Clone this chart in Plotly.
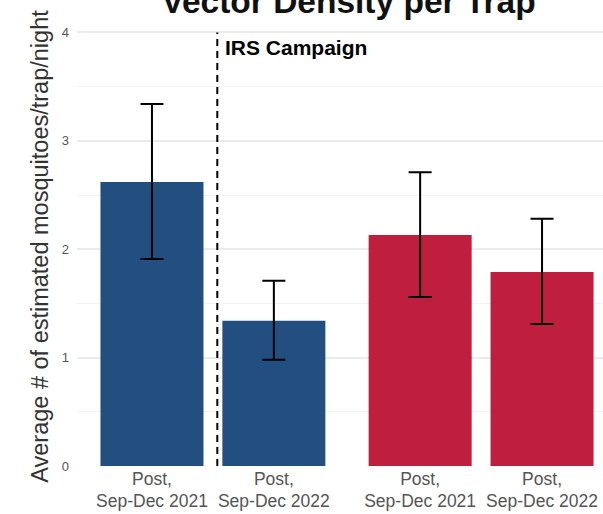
import plotly.graph_objects as go

# ---- data ----
periods = ["Post,<br>Sep-Dec 2021", "Post,<br>Sep-Dec 2022"]

group1_mean = [2.62, 1.34]
group1_lower = [1.91, 0.98]
group1_upper = [3.34, 1.71]

group2_mean = [2.13, 1.79]
group2_lower = [1.56, 1.31]
group2_upper = [2.71, 2.28]

title_text = "Vector Density per Trap"
y_title = "Average # of estimated mosquitoes/trap/night"
event_label = "IRS Campaign"

BLUE = "#224e80"
RED = "#c01e3f"
FONT = "Liberation Sans, Arial, sans-serif"


def err(mean, lower, upper):
    return dict(
        type="data",
        symmetric=False,
        array=[u - m for m, u in zip(mean, upper)],
        arrayminus=[m - l for m, l in zip(mean, lower)],
        color="black",
        thickness=2,
        width=11.5,
    )


fig = go.Figure()
fig.add_trace(go.Bar(
    x=periods, y=group1_mean, marker=dict(color=BLUE, line=dict(width=0)),
    width=0.845, error_y=err(group1_mean, group1_lower, group1_upper),
    xaxis="x", yaxis="y", showlegend=False,
))
fig.add_trace(go.Bar(
    x=periods, y=group2_mean, marker=dict(color=RED, line=dict(width=0)),
    width=0.845, error_y=err(group2_mean, group2_lower, group2_upper),
    xaxis="x2", yaxis="y", showlegend=False,
))

split = 270 / 526

fig.add_shape(
    type="line", xref="x", yref="y", x0=0.536, x1=0.536, y0=0, y1=4.0,
    line=dict(color="black", width=2, dash="7px,5px"),
)
fig.add_annotation(
    x=0.58, y=3.865, xref="x", yref="y", text="<b>" + event_label + "</b>",
    showarrow=False, xanchor="left", yanchor="middle",
    font=dict(family=FONT, size=21, color="black"),
)

tickfont = dict(family=FONT, size=17.5, color="#555555")
fig.update_layout(
    width=603, height=514,
    margin=dict(l=77, r=0, t=27, b=48),
    paper_bgcolor="white", plot_bgcolor="white",
    title=dict(
        text="<b>" + title_text + "</b>", x=0.578, xref="container", xanchor="center",
        y=0.9972, yref="container", yanchor="middle",
        font=dict(family=FONT, size=33.5, color="#111111"),
        automargin=False,
    ),
    xaxis=dict(
        domain=[0, split], range=[-0.615, 1.6], type="category",
        categoryorder="array", categoryarray=periods,
        showgrid=False, zeroline=False, showline=False, ticks="",
        ticklabelstandoff=0, automargin=False,
        tickfont=tickfont, anchor="y",
    ),
    xaxis2=dict(
        domain=[split, 1], range=[-0.6, 1.5], type="category",
        categoryorder="array", categoryarray=periods,
        showgrid=False, zeroline=False, showline=False, ticks="",
        ticklabelstandoff=0, automargin=False,
        tickfont=tickfont, anchor="y",
    ),
    yaxis=dict(
        range=[0, 4.05], dtick=1, tick0=0, showgrid=True,
        gridcolor="#ebebeb", gridwidth=1.5, zeroline=False, showline=False,
        ticks="", ticklabelstandoff=7, automargin=False,
        tickfont=dict(family=FONT, size=13, color="#555555"),
        minor=dict(dtick=0.5, showgrid=True, gridcolor="#f3f3f3", gridwidth=1),
        title=dict(text=y_title, standoff=6,
                   font=dict(family=FONT, size=23.5, color="#333333")),
    ),
    font=dict(family=FONT),
)

fig.write_html("out.html")
